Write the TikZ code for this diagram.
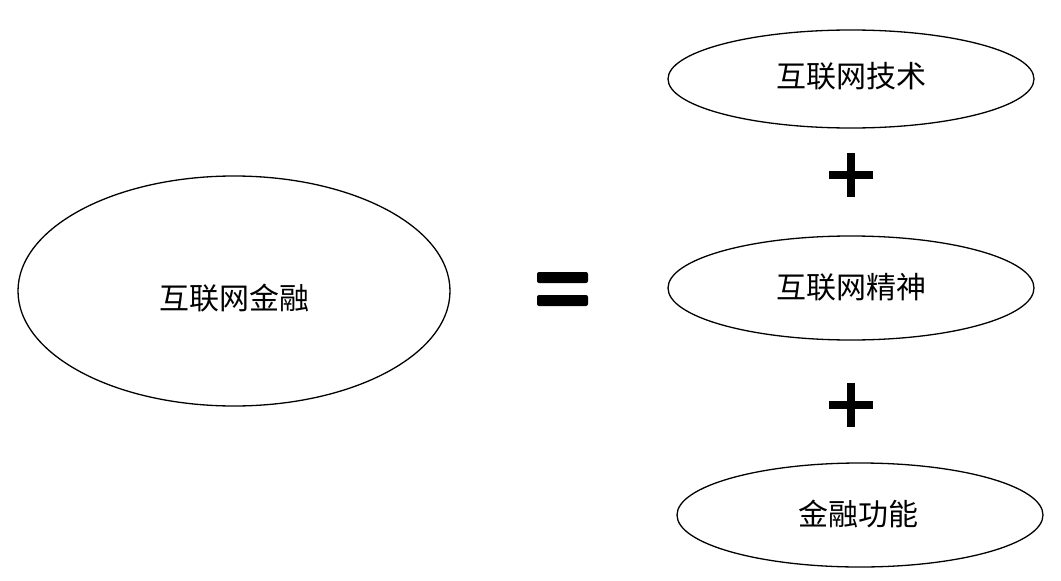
\documentclass[tikz,border=0pt]{standalone}
\usepackage{fontspec}
\newfontfamily\cjk{Noto Sans CJK SC}
\begin{document}
\begin{tikzpicture}[x=1pt,y=-1pt,
  ell/.style={draw,line width=1.3pt},
  lbl/.style={font=\cjk\fontsize{30}{34}\selectfont},
  bar/.style={fill=black}]
\useasboundingbox (0,0) rectangle (1061,581);
\draw[ell] (234,291) ellipse [x radius=216,y radius=115];
\draw[ell] (851,79) ellipse [x radius=183,y radius=49];
\draw[ell] (851,288) ellipse [x radius=183,y radius=52];
\draw[ell] (860,515) ellipse [x radius=183,y radius=52];
\node[lbl] (a) at (234,298) {互联网金融};
\node[lbl] (b) at (851,76) {互联网技术};
\node[lbl] (c) at (851,287) {互联网精神};
\node[lbl] (d) at (858,514) {金融功能};
\fill[bar,rounded corners=2pt] (537,272) rectangle (588,283);
\fill[bar,rounded corners=2pt] (537,295) rectangle (588,306);
\fill[bar] (829,171) rectangle (873,179);
\fill[bar] (847,153) rectangle (855,197);
\fill[bar] (829,401) rectangle (873,409);
\fill[bar] (847,383) rectangle (855,427);
\end{tikzpicture}
\end{document}
